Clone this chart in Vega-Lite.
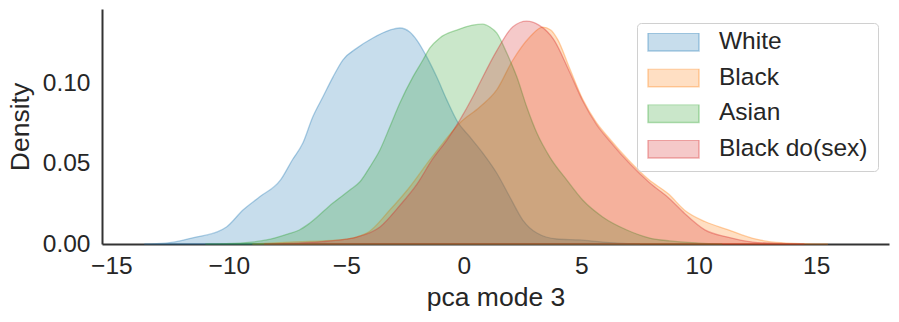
{
  "$schema": "https://vega.github.io/schema/vega-lite/v6.json",
  "width": 787,
  "height": 235,
  "autosize": {"type": "none"},
  "padding": {"left": 102, "top": 9, "right": 10, "bottom": 78},
  "background": "white",
  "config": {
    "view": {"stroke": null},
    "font": "Liberation Sans",
    "axis": {"domainColor": "#333333", "domainWidth": 2, "ticks": false, "grid": false, "labelColor": "#262626", "titleColor": "#262626", "labelFont": "Liberation Sans", "titleFont": "Liberation Sans", "labelFontSize": 24.5, "titleFontSize": 26.5, "titleFontWeight": "normal"},
    "legend": {"labelFont": "Liberation Sans", "labelFontSize": 24.5, "labelColor": "#262626"}
  },
  "data": {"values": [
    {"g":"White","x":-13.6,"y":0},{"g":"White","x":-12.7,"y":0.0005},{"g":"White","x":-11.4,"y":0.0043},{"g":"White","x":-10.5,"y":0.0075},{"g":"White","x":-10.1,"y":0.0106},{"g":"White","x":-9.4,"y":0.0211},{"g":"White","x":-8.7,"y":0.0292},{"g":"White","x":-7.8,"y":0.0398},{"g":"White","x":-7.3,"y":0.0522},{"g":"White","x":-6.85,"y":0.0627},{"g":"White","x":-6.43,"y":0.0789},{"g":"White","x":-6.0,"y":0.0913},{"g":"White","x":-5.57,"y":0.1037},{"g":"White","x":-5.15,"y":0.1143},{"g":"White","x":-4.55,"y":0.1217},{"g":"White","x":-3.87,"y":0.128},{"g":"White","x":-3.15,"y":0.1329},{"g":"White","x":-2.72,"y":0.1342},{"g":"White","x":-2.3,"y":0.1317},{"g":"White","x":-2.0,"y":0.1267},{"g":"White","x":-1.57,"y":0.1161},{"g":"White","x":-1.15,"y":0.1037},{"g":"White","x":-0.72,"y":0.0894},{"g":"White","x":-0.26,"y":0.0758},{"g":"White","x":0.26,"y":0.0665},{"g":"White","x":0.81,"y":0.0565},{"g":"White","x":1.4,"y":0.0441},{"g":"White","x":1.96,"y":0.0292},{"g":"White","x":2.51,"y":0.0149},{"g":"White","x":3.11,"y":0.0068},{"g":"White","x":3.96,"y":0.0031},{"g":"White","x":4.94,"y":0.0025},{"g":"White","x":5.91,"y":0.0012},{"g":"White","x":7.5,"y":0},
    {"g":"Black","x":-9,"y":0},{"g":"Black","x":-7.4,"y":0.0012},{"g":"Black","x":-5.3,"y":0.0025},{"g":"Black","x":-4.13,"y":0.0068},{"g":"Black","x":-3.15,"y":0.0211},{"g":"Black","x":-2.3,"y":0.0354},{"g":"Black","x":-1.45,"y":0.0522},{"g":"Black","x":-0.89,"y":0.0627},{"g":"Black","x":-0.17,"y":0.0752},{"g":"Black","x":0.68,"y":0.0851},{"g":"Black","x":1.4,"y":0.0957},{"g":"Black","x":2.09,"y":0.1143},{"g":"Black","x":2.81,"y":0.1286},{"g":"Black","x":3.36,"y":0.1348},{"g":"Black","x":3.7,"y":0.133},{"g":"Black","x":4.0,"y":0.127},{"g":"Black","x":4.51,"y":0.109},{"g":"Black","x":5.06,"y":0.09},{"g":"Black","x":5.62,"y":0.076},{"g":"Black","x":6.17,"y":0.066},{"g":"Black","x":7.02,"y":0.052},{"g":"Black","x":7.87,"y":0.04},{"g":"Black","x":8.72,"y":0.031},{"g":"Black","x":9.4,"y":0.021},{"g":"Black","x":10.26,"y":0.014},{"g":"Black","x":11.23,"y":0.009},{"g":"Black","x":12.3,"y":0.0035},{"g":"Black","x":13.3,"y":0.001},{"g":"Black","x":14.5,"y":0.0002},{"g":"Black","x":15.5,"y":0},
    {"g":"Asian","x":-11,"y":0},{"g":"Asian","x":-9.5,"y":0.0006},{"g":"Asian","x":-8.4,"y":0.0025},{"g":"Asian","x":-7.5,"y":0.0062},{"g":"Asian","x":-7.0,"y":0.0087},{"g":"Asian","x":-6.55,"y":0.013},{"g":"Asian","x":-5.57,"y":0.0255},{"g":"Asian","x":-4.85,"y":0.0335},{"g":"Asian","x":-4.43,"y":0.0385},{"g":"Asian","x":-4.0,"y":0.0478},{"g":"Asian","x":-3.57,"y":0.0584},{"g":"Asian","x":-3.15,"y":0.0727},{"g":"Asian","x":-2.72,"y":0.0876},{"g":"Asian","x":-2.17,"y":0.1037},{"g":"Asian","x":-1.74,"y":0.1143},{"g":"Asian","x":-1.45,"y":0.1217},{"g":"Asian","x":-1.02,"y":0.128},{"g":"Asian","x":-0.3,"y":0.1329},{"g":"Asian","x":0.38,"y":0.136},{"g":"Asian","x":0.81,"y":0.1366},{"g":"Asian","x":1.11,"y":0.1348},{"g":"Asian","x":1.4,"y":0.1311},{"g":"Asian","x":1.83,"y":0.1186},{"g":"Asian","x":2.26,"y":0.1037},{"g":"Asian","x":2.68,"y":0.0851},{"g":"Asian","x":3.11,"y":0.0689},{"g":"Asian","x":3.66,"y":0.054},{"g":"Asian","x":4.38,"y":0.0398},{"g":"Asian","x":5.06,"y":0.0273},{"g":"Asian","x":5.91,"y":0.0168},{"g":"Asian","x":6.94,"y":0.0087},{"g":"Asian","x":7.91,"y":0.0037},{"g":"Asian","x":8.77,"y":0.0019},{"g":"Asian","x":10.0,"y":0.0006},{"g":"Asian","x":11,"y":0},
    {"g":"Black do(sex)","x":-8.5,"y":0},{"g":"Black do(sex)","x":-6,"y":0.0015},{"g":"Black do(sex)","x":-5,"y":0.003},{"g":"Black do(sex)","x":-4.55,"y":0.0043},{"g":"Black do(sex)","x":-3.57,"y":0.0106},{"g":"Black do(sex)","x":-2.72,"y":0.024},{"g":"Black do(sex)","x":-2.0,"y":0.037},{"g":"Black do(sex)","x":-1.32,"y":0.053},{"g":"Black do(sex)","x":-0.72,"y":0.0646},{"g":"Black do(sex)","x":-0.17,"y":0.077},{"g":"Black do(sex)","x":0.38,"y":0.0913},{"g":"Black do(sex)","x":0.68,"y":0.1},{"g":"Black do(sex)","x":1.4,"y":0.12},{"g":"Black do(sex)","x":2.09,"y":0.135},{"g":"Black do(sex)","x":2.68,"y":0.1385},{"g":"Black do(sex)","x":3.2,"y":0.136},{"g":"Black do(sex)","x":3.83,"y":0.127},{"g":"Black do(sex)","x":4.47,"y":0.108},{"g":"Black do(sex)","x":5.06,"y":0.089},{"g":"Black do(sex)","x":5.66,"y":0.074},{"g":"Black do(sex)","x":6.21,"y":0.064},{"g":"Black do(sex)","x":7.06,"y":0.05},{"g":"Black do(sex)","x":7.91,"y":0.038},{"g":"Black do(sex)","x":8.77,"y":0.028},{"g":"Black do(sex)","x":9.4,"y":0.019},{"g":"Black do(sex)","x":10.26,"y":0.0088},{"g":"Black do(sex)","x":11.23,"y":0.0043},{"g":"Black do(sex)","x":12.3,"y":0.0012},{"g":"Black do(sex)","x":13.5,"y":0.0003},{"g":"Black do(sex)","x":14.5,"y":0}
  ]},
  "mark": {"type": "area", "interpolate": "monotone", "fillOpacity": 0.25, "strokeOpacity": 0.35, "strokeWidth": 1.3},
  "encoding": {
    "x": {"field": "x", "type": "quantitative", "scale": {"domain": [-15.4, 18.1], "nice": false, "zero": false},
      "axis": {"values": [-15, -10, -5, 0, 5, 10, 15], "title": "pca mode 3", "labelPadding": 10, "titlePadding": 7, "labelFlush": false}},
    "y": {"field": "y", "type": "quantitative", "stack": null, "scale": {"domain": [0, 0.146], "nice": false},
      "axis": {"values": [0, 0.05, 0.1], "format": ".2f", "title": "Density", "labelPadding": 12, "titlePadding": 8, "labelFlush": false}},
    "stroke": {"field": "g", "type": "nominal", "legend": null, "scale": {"domain": ["White", "Black", "Asian", "Black do(sex)"], "range": ["#1f77b4", "#ff7f0e", "#2ca02c", "#d62728"]}},
    "fill": {"field": "g", "type": "nominal", "scale": {"domain": ["White", "Black", "Asian", "Black do(sex)"], "range": ["#1f77b4", "#ff7f0e", "#2ca02c", "#d62728"]},
      "legend": {"title": null, "orient": "none", "legendX": 535, "legendY": 14, "padding": 10, "strokeColor": "#d0d0d0", "fillColor": "white", "cornerRadius": 4,
        "symbolType": "M-1,-0.353H1V0.353H-1Z", "symbolSize": 2601, "clipHeight": 18, "rowPadding": 10.7, "labelOffset": 19,
        "encode": {"symbols": {"update": {"stroke": {"scale": "stroke", "field": "value"}, "strokeOpacity": {"value": 0.35}, "strokeWidth": {"value": 1.5}, "fillOpacity": {"value": 0.25}, "opacity": {"value": 1}}}}}}
  }
}
